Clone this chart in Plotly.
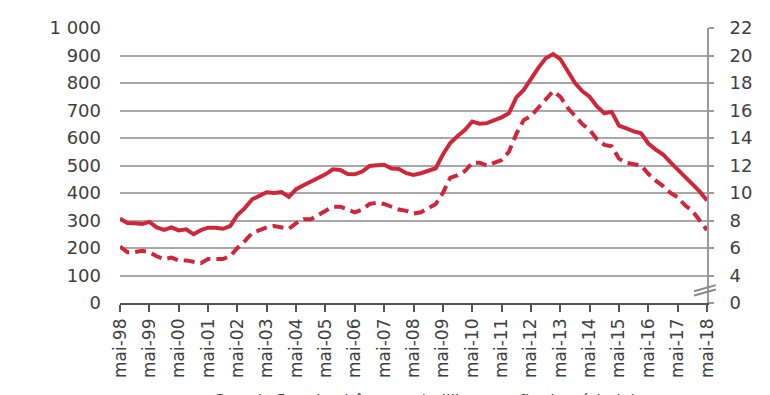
import plotly.graph_objects as go
import pandas as pd

# Quarterly observations, May 1998 -> May 2018
dates = pd.date_range("1998-05-01", "2018-05-01", freq="3MS")

# Solid line: unemployed persons (thousands, left axis)
chomeurs = [307, 291, 290, 287, 295, 275, 266, 275, 264, 268, 250, 265,
            274, 274, 270, 280, 320, 345, 377, 392, 403, 400, 403, 386,
            414, 428, 441, 452, 468, 486, 484, 469, 468, 478, 498, 501,
            503, 489, 487, 472, 466, 472, 480, 490, 540, 582, 607, 630,
            660, 652, 654, 665, 675, 690, 748, 775, 818, 855, 890, 905,
            887, 840, 800, 770, 750, 715, 690, 695, 645, 635, 624, 617,
            580, 558, 540, 511, 486, 460, 433, 405, 373]

# Dashed line: unemployment rate (%, right axis)
taux = [6.1, 5.7, 5.7, 5.8, 5.7, 5.4, 5.2, 5.3, 5.1, 5.1, 5.0, 4.9,
        5.2, 5.2, 5.2, 5.4, 6.0, 6.5, 7.1, 7.3, 7.5, 7.6, 7.5, 7.4,
        7.8, 8.1, 8.1, 8.4, 8.7, 9.0, 9.0, 8.8, 8.6, 8.8, 9.2, 9.3,
        9.2, 9.0, 8.8, 8.7, 8.5, 8.6, 8.9, 9.2, 10.0, 11.1, 11.3, 11.6,
        12.2, 12.2, 12.0, 12.2, 12.4, 13.0, 14.3, 15.3, 15.6, 16.2, 16.8, 17.4,
        17.0, 16.2, 15.6, 15.0, 14.6, 13.9, 13.5, 13.4, 12.5, 12.2, 12.1, 12.0,
        11.4, 10.9, 10.5, 10.0, 9.7, 9.1, 8.7, 8.0, 7.3]

# Axis ticks
x_tick_dates = pd.date_range("1998-05-01", "2018-05-01", freq="12MS")
x_tick_labels = ["mai-%02d" % (d.year % 100) for d in x_tick_dates]
left_ticks = [0, 100, 200, 300, 400, 500, 600, 700, 800, 900, 1000]
left_labels = ["0", "100", "200", "300", "400", "500", "600", "700", "800", "900", "1 000"]
right_ticks = [2, 4, 6, 8, 10, 12, 14, 16, 18, 20, 22]
right_labels = ["0", "4", "6", "8", "10", "12", "14", "16", "18", "20", "22"]

RED = "#d0263a"
TXT = "#404040"
FONT = "DejaVu Sans"

fig = go.Figure()
fig.add_trace(go.Scatter(x=dates, y=chomeurs, mode="lines",
                         line=dict(color=RED, width=4),
                         name="Chômeurs (milliers)", yaxis="y"))
fig.add_trace(go.Scatter(x=dates, y=taux, mode="lines",
                         line=dict(color=RED, width=4, dash="11px,6px"),
                         name="Taux de chômage (%)", yaxis="y2"))

fig.update_layout(
    width=770, height=395,
    margin=dict(l=112, r=71, t=20, b=100),
    paper_bgcolor="white", plot_bgcolor="white",
    showlegend=False,
    font=dict(family=FONT, color=TXT, size=17),
    xaxis=dict(
        type="date", automargin=False,
        range=[dates[0], dates[-1]],
        tickmode="array", tickvals=x_tick_dates, ticktext=x_tick_labels,
        tickangle=-90, tickfont=dict(size=17, color=TXT),
        ticks="outside", ticklen=7, tickwidth=1.5, tickcolor="#555555",
        showline=True, linecolor="#555555", linewidth=1.5,
        showgrid=False, zeroline=False,
    ),
    yaxis=dict(
        range=[0, 1000], automargin=False,
        tickmode="array", tickvals=left_ticks, ticktext=left_labels,
        tickfont=dict(size=18, color=TXT),
        ticks="", ticklabelstandoff=18,
        showgrid=True, gridcolor="#a8a8a8", gridwidth=1.6,
        showline=False, zeroline=False,
    ),
    yaxis2=dict(
        overlaying="y", side="right", automargin=False,
        range=[2, 22],
        tickmode="array", tickvals=right_ticks, ticktext=right_labels,
        tickfont=dict(size=18, color=TXT),
        ticks="outside", ticklen=5, tickwidth=1.5, tickcolor="#999999",
        ticklabelstandoff=12,
        showgrid=False, zeroline=False,
        showline=True, linecolor="#999999", linewidth=2,
    ),
    shapes=[
        # axis break marks on the right axis
        dict(type="line", xref="paper", yref="paper",
             x0=0.978, x1=1.015, y0=0.043, y1=0.065,
             line=dict(color="#888888", width=2)),
        dict(type="line", xref="paper", yref="paper",
             x0=0.978, x1=1.015, y0=0.027, y1=0.049,
             line=dict(color="#888888", width=2)),
    ],
    annotations=[
        dict(text="Grands flux de chômeurs (milliers, en fin de période)",
             xref="paper", yref="paper", x=0.52, y=-0.312,
             xanchor="center", yanchor="top", showarrow=False,
             font=dict(size=16, color=TXT)),
    ],
)

fig.write_html("out.html")
